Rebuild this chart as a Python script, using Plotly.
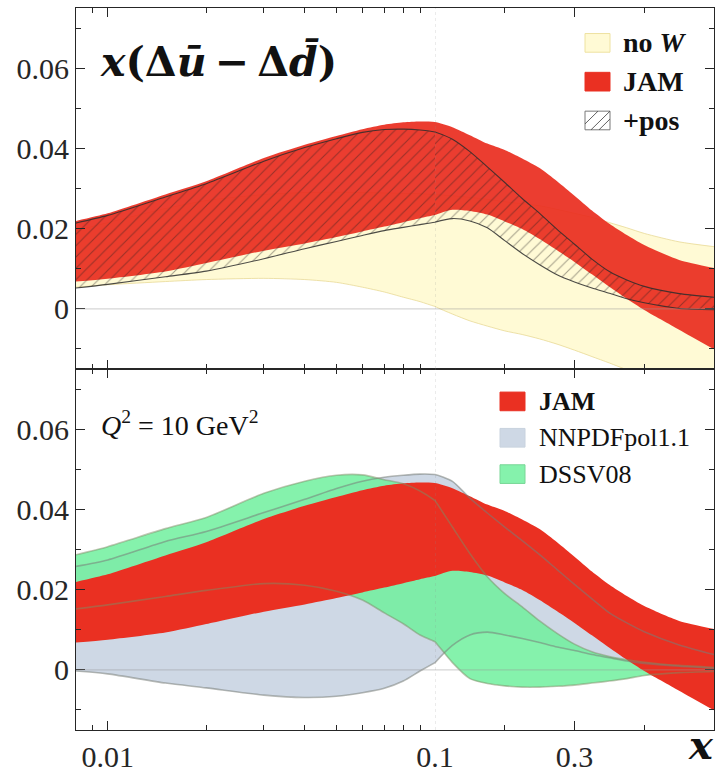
import plotly.graph_objects as go

# ---------------------------------------------------------------------------
# x(Δū − Δd̄) at Q² = 10 GeV²: upper/lower edges of each uncertainty band
# ---------------------------------------------------------------------------
x_grid = [0.008, 0.01, 0.015, 0.02, 0.03, 0.04, 0.05, 0.06, 0.07, 0.08, 0.09, 0.1,
          0.125, 0.15, 0.175, 0.2, 0.225, 0.25, 0.275, 0.3, 0.325, 0.35, 0.375, 0.4,
          0.45, 0.5]

jam_hi = [0.0219, 0.0238, 0.0285, 0.0318, 0.0376, 0.0409, 0.0431, 0.0448, 0.0459, 0.0465,
          0.0467, 0.0466, 0.0453, 0.0433, 0.0412, 0.0396, 0.0375, 0.0351, 0.0318, 0.0282,
          0.0245, 0.0212, 0.0184, 0.0159, 0.0122, 0.0102]
jam_lo = [0.0068, 0.0075, 0.0093, 0.0114, 0.0145, 0.0163, 0.0179, 0.0193, 0.0205, 0.0216,
          0.0226, 0.0234, 0.0247, 0.0244, 0.0235, 0.0218, 0.0199, 0.0174, 0.0146, 0.0117,
          0.0086, 0.0055, 0.0025, -0.0003, -0.0052, -0.0101]

now_hi = [0.0195, 0.0215, 0.0250, 0.0270, 0.0285, 0.0290, 0.0291, 0.0290, 0.0289, 0.0288,
          0.0287, 0.0285, 0.0282, 0.0278, 0.0273, 0.0267, 0.0262, 0.0257, 0.0248, 0.0238,
          0.0228, 0.0215, 0.0202, 0.0188, 0.0167, 0.0155]
now_lo = [0.0054, 0.0060, 0.0068, 0.0073, 0.0076, 0.0073, 0.0066, 0.0054, 0.0042, 0.0029,
          0.0018, 0.0006, -0.0013, -0.0030, -0.0043, -0.0055, -0.0064, -0.0075, -0.0088,
          -0.0103, -0.0119, -0.0135, -0.0152, -0.0170, -0.0210, -0.0250]

pos_hi = [0.0214, 0.0233, 0.0279, 0.0312, 0.0368, 0.0402, 0.0424, 0.0440, 0.0447, 0.0448,
          0.0446, 0.0441, 0.0423, 0.0392, 0.0354, 0.0315, 0.0275, 0.0238, 0.0198, 0.0161,
          0.0124, 0.0093, 0.0072, 0.0056, 0.0038, 0.0029]
pos_lo = [0.0052, 0.0061, 0.0080, 0.0094, 0.0125, 0.0150, 0.0168, 0.0183, 0.0195, 0.0203,
          0.0210, 0.0216, 0.0225, 0.0219, 0.0202, 0.0170, 0.0138, 0.0110, 0.0085, 0.0067,
          0.0052, 0.0039, 0.0025, 0.0015, 0.0001, -0.0002]

nnpdf_hi = [0.0258, 0.0274, 0.0320, 0.0345, 0.0392, 0.0425, 0.0452, 0.0470, 0.0480, 0.0485,
            0.0488, 0.0487, 0.0470, 0.0428, 0.0391, 0.0356, 0.0322, 0.0287, 0.0250, 0.0213,
            0.0177, 0.0142, 0.0117, 0.0095, 0.0062, 0.0038]
nnpdf_lo = [-0.0003, -0.0010, -0.0033, -0.0045, -0.0063, -0.0069, -0.0066, -0.0057, -0.0046,
            -0.0028, -0.0003, 0.0018, 0.0061, 0.0087, 0.0094, 0.0087, 0.0078, 0.0068, 0.0057,
            0.0048, 0.0038, 0.0030, 0.0022, 0.0016, 0.0009, 0.0004]

dssv_hi = [0.0287, 0.0307, 0.0352, 0.0380, 0.0440, 0.0470, 0.0485, 0.0486, 0.0474, 0.0464,
           0.0446, 0.0422, 0.0356, 0.0290, 0.0232, 0.0190, 0.0157, 0.0122, 0.0091, 0.0064,
           0.0045, 0.0033, 0.0025, 0.0019, 0.0011, 0.0006]
dssv_lo = [0.0152, 0.0162, 0.0183, 0.0198, 0.0215, 0.0211, 0.0196, 0.0174, 0.0142, 0.0115,
           0.0087, 0.0070, 0.0018, -0.0022, -0.0034, -0.0040, -0.0043, -0.0043, -0.0041,
           -0.0038, -0.0033, -0.0028, -0.0022, -0.0014, -0.0007, -0.0004]

y_major = [0, 0.02, 0.04, 0.06]
y_labels = ["0", "0.02", "0.04", "0.06"]
y_minor = [-0.01, 0.01, 0.03, 0.05, 0.07]
x_log_major = [0.01]
x_log_labels = ["0.01"]
x_log_minor = [0.009, 0.02, 0.03, 0.04, 0.05, 0.06, 0.07, 0.08, 0.09]
x_lin_major = [0.1, 0.3]
x_lin_labels = ["0.1", "0.3"]
x_lin_minor = [0.2, 0.4]

# ---------------------------------------------------------------------------
# Layout geometry: log axis below x = 0.1, linear axis above it
# ---------------------------------------------------------------------------
W, H = 716, 775
ML, MR, MT, MB = 76, 2, 8, 32
PW, PH = W - ML - MR, H - MT - MB
X_SPLIT = 0.1
DOM = 359 / PW       # log part width, kept on a whole pixel
Y_RANGE = [-0.015, 0.075]

SERIF = "Liberation Serif"
MATH = "DejaVu Serif"
INK = "#262626"

RED_TOP = "rgba(233,44,30,0.92)"
RED = "rgb(234,48,34)"
YELLOW = "rgba(255,250,208,0.9)"
GREY = "rgb(206,216,229)"
GREEN = "rgba(112,240,158,0.85)"

AX = {("top", "log"): ("x", "y"), ("top", "lin"): ("x2", "y2"),
      ("bot", "log"): ("x3", "y3"), ("bot", "lin"): ("x4", "y4")}


def split(xs, ys, part):
    # one extra sample past the split keeps the fills continuous; the axis clips it
    if part == "log":
        n = max(i for i, a in enumerate(xs) if a <= X_SPLIT) + 2
        return xs[:n], ys[:n]
    n = min(i for i, a in enumerate(xs) if a >= X_SPLIT) - 1
    return xs[n:], ys[n:]


def band(fig, panel, lo, hi, fill, edge=None, edge_w=0, pattern=None):
    for part in ("log", "lin"):
        xa, ya = AX[(panel, part)]
        xs, ylo = split(x_grid, lo, part)
        _, yhi = split(x_grid, hi, part)
        ln = dict(width=edge_w, color=edge or "rgba(0,0,0,0)", shape="spline", smoothing=0.7)
        fig.add_trace(go.Scatter(x=xs, y=ylo, xaxis=xa, yaxis=ya, mode="lines", line=ln,
                                 showlegend=False, hoverinfo="skip"))
        kw = dict(fill="tonexty", fillcolor=fill)
        if pattern:
            kw["fillpattern"] = pattern
        fig.add_trace(go.Scatter(x=xs, y=yhi, xaxis=xa, yaxis=ya, mode="lines", line=ln,
                                 showlegend=False, hoverinfo="skip", **kw))


def edge_line(fig, panel, ys, color, width=1.6):
    for part in ("log", "lin"):
        xa, ya = AX[(panel, part)]
        xs, yv = split(x_grid, ys, part)
        fig.add_trace(go.Scatter(x=xs, y=yv, xaxis=xa, yaxis=ya, mode="lines",
                                 line=dict(width=width, color=color, shape="spline", smoothing=0.7),
                                 showlegend=False, hoverinfo="skip"))


fig = go.Figure()

# top panel: no-W fit, JAM, JAM with positivity (hatched)
band(fig, "top", now_lo, now_hi, YELLOW, edge="rgba(232,218,150,0.8)", edge_w=1)
band(fig, "top", jam_lo, jam_hi, RED_TOP)
band(fig, "top", pos_lo, pos_hi, "rgba(0,0,0,0)", edge="rgba(45,45,45,0.85)", edge_w=1.1,
     pattern=dict(shape="/", fgcolor="rgba(35,30,30,0.8)", bgcolor="rgba(0,0,0,0)",
                  size=8, solidity=0.14))

# bottom panel: NNPDFpol1.1, DSSV08, JAM
band(fig, "bot", nnpdf_lo, nnpdf_hi, GREY)
band(fig, "bot", dssv_lo, dssv_hi, GREEN)
band(fig, "bot", jam_lo, jam_hi, RED)
for ys in (nnpdf_hi, nnpdf_lo):
    edge_line(fig, "bot", ys, "rgba(120,125,120,0.55)")
for ys in (dssv_hi, dssv_lo):
    edge_line(fig, "bot", ys, "rgba(125,140,100,0.5)")

# ---------------------------------------------------------------------------
# Axes
# ---------------------------------------------------------------------------
tick_font = dict(family=SERIF, size=30, color=INK)
common = dict(showgrid=False, zeroline=False, showline=True, linecolor=INK, linewidth=1,
              ticks="inside", tickcolor=INK, tickwidth=1, ticklen=9, tickfont=tick_font)


def xlog(domain, anchor, labels):
    return dict(common, type="log", domain=domain, anchor=anchor, mirror="allticks",
                range=[-2.09691, -1.0], tickvals=x_log_major, ticktext=x_log_labels,
                showticklabels=labels,
                minor=dict(tickvals=x_log_minor, ticks="inside", ticklen=5, tickcolor=INK))


def xlin(domain, anchor, labels):
    return dict(common, type="linear", domain=domain, anchor=anchor, mirror="allticks",
                range=[X_SPLIT, 0.5], tickvals=x_lin_major, ticktext=x_lin_labels,
                showticklabels=labels,
                minor=dict(tickvals=x_lin_minor, ticks="inside", ticklen=5, tickcolor=INK))


def yax(domain, anchor, side, labels, match=None):
    d = dict(common, domain=domain, anchor=anchor, side=side, range=Y_RANGE,
             tickvals=y_major, ticktext=y_labels,
             showticklabels=labels, ticklabelstandoff=0,
             minor=dict(tickvals=y_minor, ticks="inside", ticklen=5, tickcolor=INK))
    if match:
        d["matches"] = match
    return d


fig.update_layout(
    width=W, height=H, margin=dict(l=ML, r=MR, t=MT, b=MB),
    paper_bgcolor="white", plot_bgcolor="white", showlegend=False,
    xaxis=xlog([0, DOM], "y", False),
    xaxis2=xlin([DOM, 1], "y2", False),
    xaxis3=xlog([0, DOM], "y3", True),
    xaxis4=xlin([DOM, 1], "y4", True),
    yaxis=yax([0.5, 1], "x", "left", True),
    yaxis2=yax([0.5, 1], "x2", "right", False, "y"),
    yaxis3=yax([0, 0.5], "x3", "left", True),
    yaxis4=yax([0, 0.5], "x4", "right", False, "y3"),
)

# dotted marker line at x = 0.1 and the y = 0 reference line in both panels
for xa, ya, xl in (("x2", "y2", "x"), ("x4", "y4", "x3")):
    fig.add_shape(type="line", xref=xa, yref=f"{ya} domain",
                  x0=X_SPLIT, x1=X_SPLIT, y0=0, y1=1, layer="above",
                  line=dict(color="rgba(140,140,140,0.35)", width=1, dash="dot"))
    for ref in (xl, xa):
        fig.add_shape(type="line", xref=f"{ref} domain", yref=ya, x0=0, x1=1, y0=0, y1=0,
                      layer="above", line=dict(color="rgba(150,150,150,0.4)", width=1.2))


# ---------------------------------------------------------------------------
# Text and legends (pixel positions converted to paper coordinates)
# ---------------------------------------------------------------------------
def px(xp):
    return (xp - ML) / PW


def py(yp):
    return 1 - (yp - MT) / PH


fig.add_annotation(x=px(98), y=py(63), xref="paper", yref="paper", xanchor="left",
                   yanchor="middle", showarrow=False,
                   text="<b><i>x</i>(Δ<i>ū</i>\u2009−\u2009Δ<i>d̄</i>)</b>",
                   font=dict(family=MATH, size=41, color="#111"))
fig.add_annotation(x=px(99), y=py(431), xref="paper", yref="paper", xanchor="left",
                   yanchor="middle", showarrow=False,
                   text="<i>Q</i><sup>2</sup> = 10 GeV<sup>2</sup>",
                   font=dict(family=SERIF, size=28, color="#111"))
fig.add_annotation(x=px(701), y=py(775), xref="paper", yref="paper", xanchor="center",
                   yanchor="bottom", yshift=-9, showarrow=False, text="<b><i>x</i></b>",
                   font=dict(family=MATH, size=40, color="#111"))


def swatch(x0, yc, fill, border, hatch=False):
    x1, y0, y1 = x0 + 25, yc - 9.5, yc + 9.5
    fig.add_shape(type="rect", xref="paper", yref="paper", x0=px(x0), x1=px(x1),
                  y0=py(y1), y1=py(y0), fillcolor=fill, line=dict(color=border, width=1))
    if hatch:
        # three diagonal strokes clipped to the box
        for a, b in ((x0, y1 - 6), (x0 + 6, y1), (x0 + 14, y1)):
            c = b - y0
            xa, ya_ = a, b
            xb, yb = a + c, y0
            if xb > x1:
                yb = y0 + (xb - x1)
                xb = x1
            fig.add_shape(type="line", xref="paper", yref="paper",
                          x0=px(xa), y0=py(ya_), x1=px(xb), y1=py(yb),
                          line=dict(color="rgba(70,70,70,0.85)", width=1))


def label(x0, yc, text, size, bold=False):
    fig.add_annotation(x=px(x0), y=py(yc), xref="paper", yref="paper", xanchor="left",
                       yanchor="middle", showarrow=False,
                       text=f"<b>{text}</b>" if bold else text,
                       font=dict(family=SERIF, size=size, color="#111"))


top_legend = [("no <i>W</i>", YELLOW, "rgb(238,226,160)", False),
              ("JAM", RED, RED, False),
              ("+pos", "white", "rgb(120,120,120)", True)]
for i, (txt, fc, bc, hatch) in enumerate(top_legend):
    yc = 43.5 + i * 39.5
    swatch(585, yc, fc, bc, hatch)
    label(621, yc, txt, 28, bold=True)

bot_legend = [("<b>JAM</b>", RED, RED),
              ("NNPDFpol1.1", GREY, "rgb(200,210,222)"),
              ("DSSV08", GREEN, "rgb(120,215,150)")]
for i, (txt, fc, bc) in enumerate(bot_legend):
    yc = 408.5 + i * 37
    swatch(500, yc, fc, bc)
    label(537, yc, txt, 26)

fig.write_html("out.html")
